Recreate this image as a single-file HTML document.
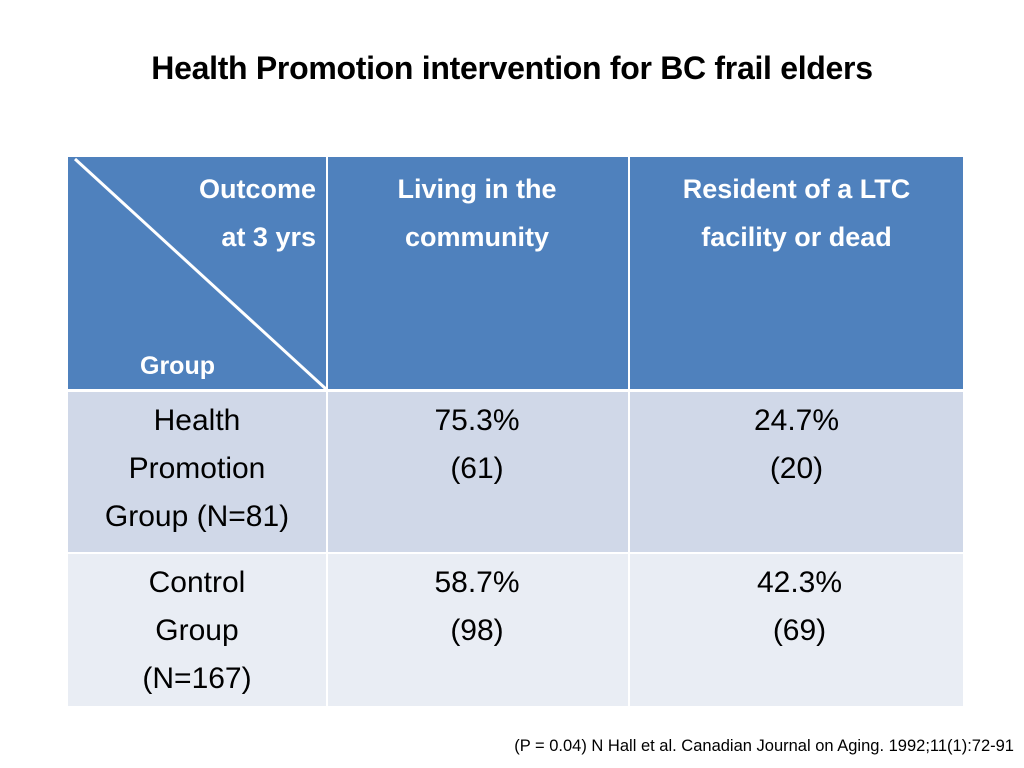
<!DOCTYPE html>
<html><head><meta charset="utf-8"><style>
body{margin:0;width:1024px;height:768px;background:#fff;position:relative;overflow:hidden;font-family:"Liberation Sans",sans-serif}
.a{position:absolute}
.c{position:absolute;box-sizing:border-box}
.t{position:absolute;line-height:48px;white-space:nowrap}
.h{color:#fff;font-weight:bold;font-size:27px}
.b{color:#000;font-size:30px}
</style></head><body>
<div class="a" style="left:0;width:1024px;top:50px;text-align:center;font-size:32px;font-weight:bold;color:#000;letter-spacing:-0.3px">Health Promotion intervention for BC frail elders</div>
<div class="a" style="left:68px;top:157px;width:895px;height:549px">
<div class="c" style="left:0;top:0;width:258px;height:232px;background:#4F81BD"></div>
<div class="c" style="left:260px;top:0;width:300px;height:232px;background:#4F81BD"></div>
<div class="c" style="left:562px;top:0;width:333px;height:232px;background:#4F81BD"></div>
<div class="c" style="left:0;top:235px;width:258px;height:160px;background:#D0D8E8"></div>
<div class="c" style="left:260px;top:235px;width:300px;height:160px;background:#D0D8E8"></div>
<div class="c" style="left:562px;top:235px;width:333px;height:160px;background:#D0D8E8"></div>
<div class="c" style="left:0;top:397px;width:258px;height:152px;background:#E9EDF4"></div>
<div class="c" style="left:260px;top:397px;width:300px;height:152px;background:#E9EDF4"></div>
<div class="c" style="left:562px;top:397px;width:333px;height:152px;background:#E9EDF4"></div>
<svg class="a" style="left:0;top:0" width="262" height="235"><line x1="7" y1="2" x2="258" y2="232" stroke="#fff" stroke-width="3"/></svg>
</div>
<div class="t h" style="right:708px;top:165px;text-align:right">Outcome<br>at 3 yrs</div>
<div class="t h" style="left:140px;top:342px;font-size:25px">Group</div>
<div class="t h" style="left:327px;width:300px;top:165px;text-align:center">Living in the<br>community</div>
<div class="t h" style="left:630px;width:333px;top:165px;text-align:center">Resident of a LTC<br>facility or dead</div>
<div class="t b" style="left:68px;width:258px;top:397px;text-align:center">Health<br>Promotion<br>Group (N=81)</div>
<div class="t b" style="left:327px;width:300px;top:397px;text-align:center">75.3%<br>(61)</div>
<div class="t b" style="left:630px;width:333px;top:397px;text-align:center">24.7%<br>(20)</div>
<div class="t b" style="left:68px;width:258px;top:559px;text-align:center">Control<br>Group<br>(N=167)</div>
<div class="t b" style="left:327px;width:300px;top:559px;text-align:center">58.7%<br>(98)</div>
<div class="t b" style="left:633px;width:333px;top:559px;text-align:center">42.3%<br>(69)</div>
<div class="a" style="right:10px;top:737px;font-size:16.5px;color:#000;white-space:nowrap">(P = 0.04) N Hall et al. Canadian Journal on Aging. 1992;11(1):72-91</div>
</body></html>
